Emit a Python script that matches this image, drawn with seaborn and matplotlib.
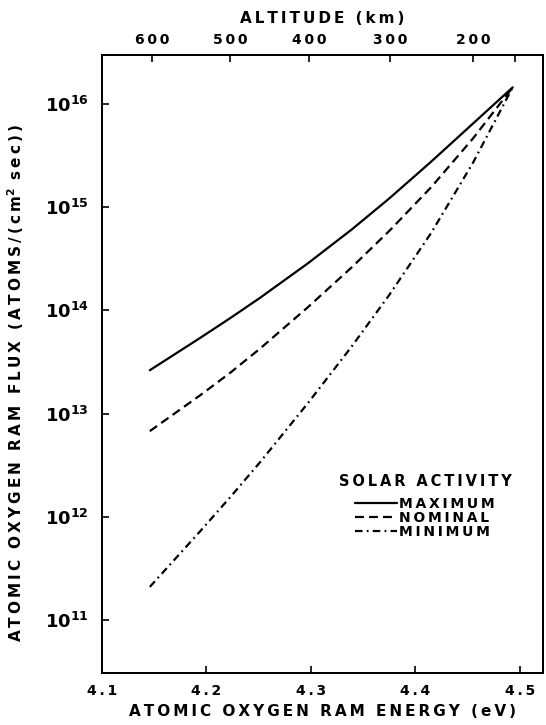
import matplotlib
matplotlib.use("Agg")
import matplotlib.pyplot as plt
from matplotlib.ticker import NullLocator
import numpy as np
import pandas as pd
import seaborn as sns

# ---- data ----
energy = [4.146, 4.194, 4.223, 4.251, 4.297, 4.339, 4.375, 4.415, 4.455, 4.493]
flux_maximum = [2.63e13, 5.40e13, 8.43e13, 1.315e14, 2.85e14, 6.07e14, 1.216e15, 2.76e15, 6.46e15, 1.45e16]
flux_nominal = [6.76e12, 1.50e13, 2.49e13, 4.23e13, 1.07e14, 2.61e14, 5.89e14, 1.56e15, 4.63e15, 1.45e16]
flux_minimum = [2.09e11, 7.21e11, 1.552e12, 3.34e12, 1.256e13, 4.46e13, 1.413e14, 5.62e14, 2.69e15, 1.45e16]
activity_labels = ["MAXIMUM", "NOMINAL", "MINIMUM"]

x_ticks = [4.1, 4.2, 4.3, 4.4, 4.5]
x_tick_labels = ["4.1", "4.2", "4.3", "4.4", "4.5"]
altitude_energy = [4.148, 4.223, 4.298, 4.376, 4.455, 4.495]
altitude_labels = ["600", "500", "400", "300", "200", ""]
y_exponents = [11, 12, 13, 14, 15, 16]

THIN = "\u2009"


def spaced(s, sep=THIN):
    return sep.join(s)


# ---- style ----
sns.set_theme(style="ticks")
plt.rcParams["font.family"] = ["DejaVu Sans"]
plt.rcParams["font.weight"] = "bold"
plt.rcParams["mathtext.fontset"] = "dejavusans"
plt.rcParams["axes.linewidth"] = 1.4
for k in ["text.color", "axes.labelcolor", "xtick.color", "ytick.color", "axes.edgecolor"]:
    plt.rcParams[k] = "black"

df = pd.DataFrame({
    "energy": energy * 3,
    "flux": flux_maximum + flux_nominal + flux_minimum,
    "activity": [activity_labels[0]] * len(energy)
    + [activity_labels[1]] * len(energy)
    + [activity_labels[2]] * len(energy),
})

fig = plt.figure(figsize=(5.46, 7.25), dpi=100)
ax = fig.add_axes([101.7 / 546, 1 - 673 / 725, (543 - 101.7) / 546, (673 - 55) / 725])

sns.lineplot(
    data=df, x="energy", y="flux", style="activity", color="black",
    dashes={"MAXIMUM": "", "NOMINAL": (4, 2.3), "MINIMUM": (3.4, 1.9, 0.8, 1.9)},
    linewidth=1.6, sort=False, legend=False, ax=ax,
)
ax.set_yscale("log")
ax.set_xlim(4.1, 4.522)
ax.set_ylim(10 ** 10.486, 10 ** 16.475)

ax.set_xticks(x_ticks)
ax.set_xticklabels([spaced(t) for t in x_tick_labels], fontsize=10, fontweight="bold")
ax.set_yticks([10.0 ** e for e in y_exponents])
ax.set_yticklabels([rf"$\mathbf{{10^{{{e}}}}}$" for e in y_exponents], fontsize=13)
ax.yaxis.set_minor_locator(NullLocator())
ax.tick_params(axis="both", direction="in", length=5, width=1.2, colors="black")
ax.tick_params(axis="x", pad=8)
ax.tick_params(axis="y", pad=9)

ax.set_xlabel(spaced("ATOMIC OXYGEN RAM ENERGY (eV)"), fontsize=11, fontweight="bold", labelpad=4)
ax.set_ylabel(spaced("ATOMIC OXYGEN RAM FLUX (ATOMS/(cm") + r"$^\mathbf{2}$" + spaced(" sec))"),
              fontsize=11, fontweight="bold")
ax.yaxis.set_label_coords(-0.1715, 0.469)

ax2 = ax.twiny()
ax2.set_xlim(ax.get_xlim())
ax2.set_xticks(altitude_energy)
ax2.set_xticklabels([spaced(t) for t in altitude_labels], fontsize=10, fontweight="bold")
ax2.tick_params(axis="x", direction="in", length=5, width=1.2, pad=6, colors="black")
ax2.set_xlabel(spaced("ALTITUDE (km)"), fontsize=11, fontweight="bold", labelpad=7)
for s in ax2.spines.values():
    s.set_linewidth(1.4)

lines = ax.get_lines()[:3]
leg = ax.legend(
    lines, [spaced(l) for l in activity_labels], title=spaced("SOLAR ACTIVITY"), frameon=False,
    loc="upper left", bbox_to_anchor=(0.537, 0.322), handlelength=3.0,
    handletextpad=0.2, labelspacing=0.0, borderpad=0, borderaxespad=0,
    prop={"weight": "bold", "size": 10},
    title_fontproperties={"weight": "bold", "size": 10.5},
)
leg._legend_box.sep = 6

fig.savefig("out.png", dpi=100)
